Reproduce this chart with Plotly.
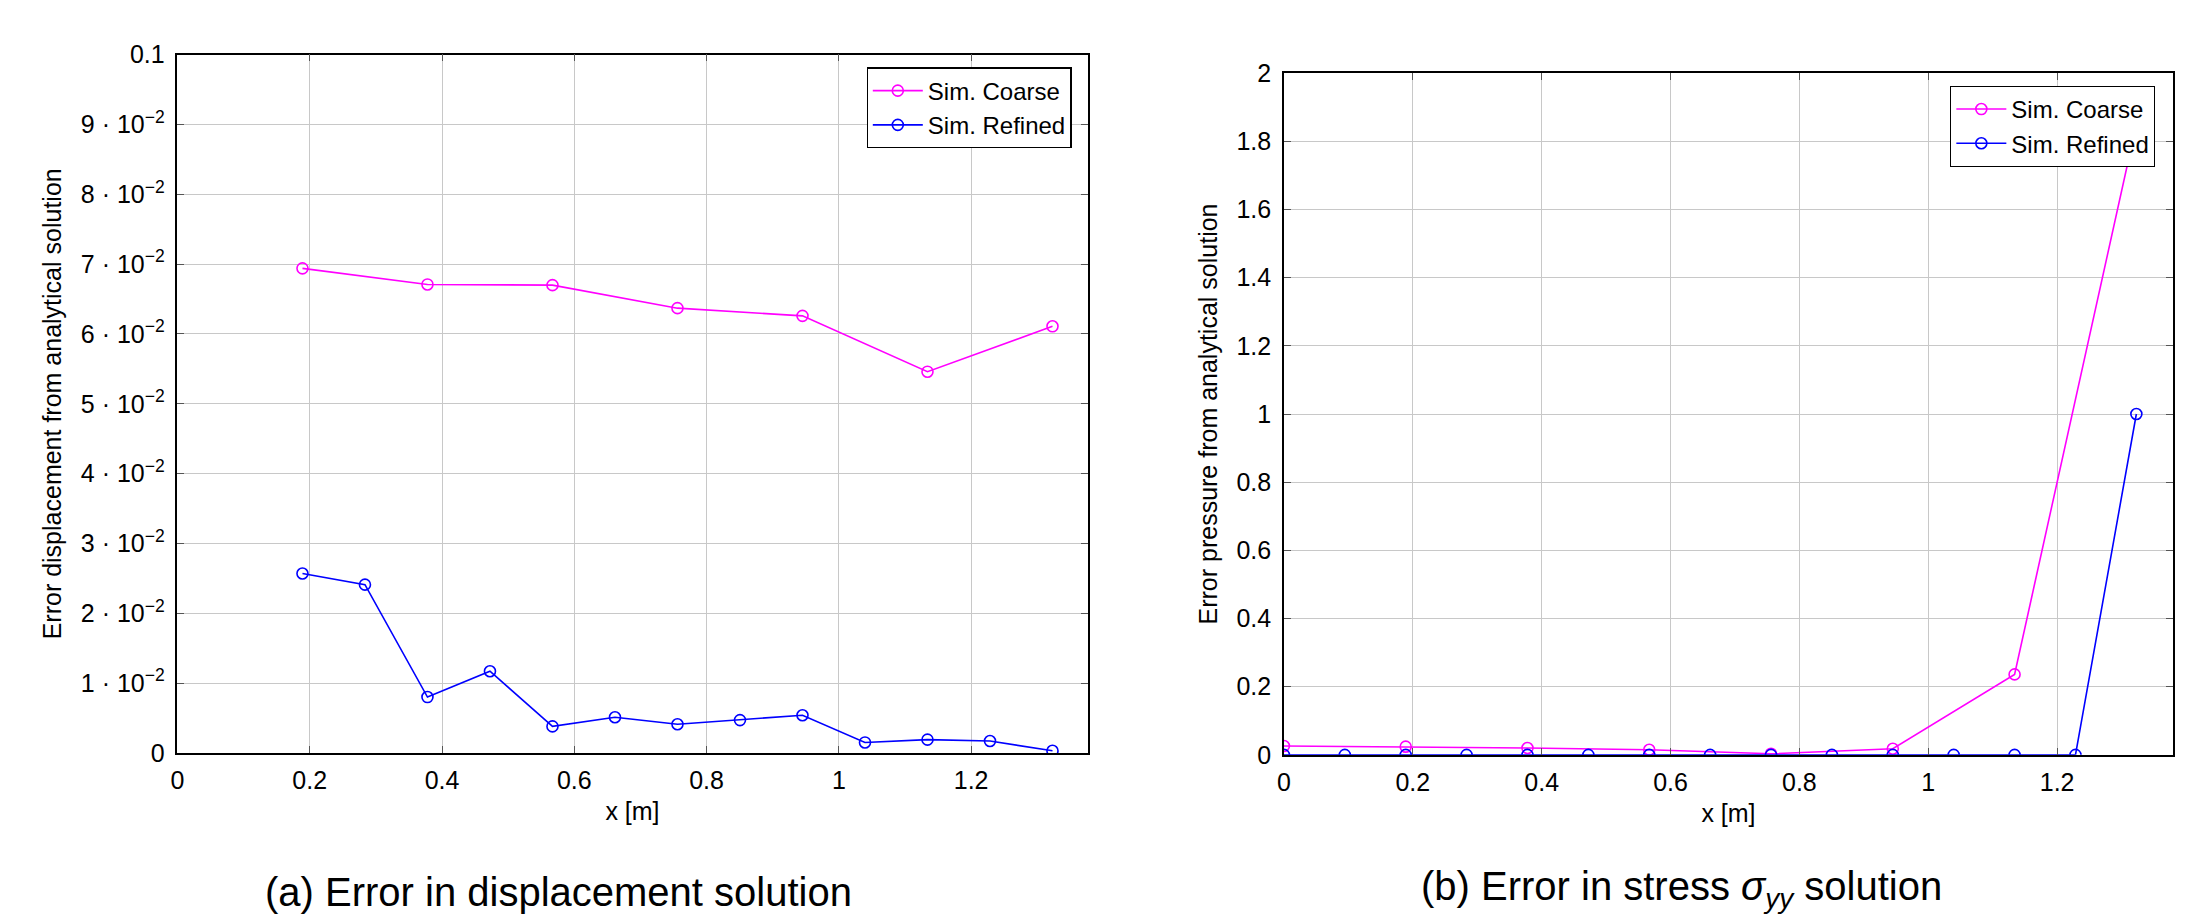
"""
Error vs analytical solution - coarse / refined simulation
(a) displacement, (b) stress sigma_yy
"""

import plotly.graph_objects as go
from plotly.subplots import make_subplots

# ============================================================================
# DATA
# ============================================================================
x_coarse_a = [0.189, 0.378, 0.567, 0.756, 0.945, 1.134, 1.323]
err_disp_coarse = [0.0694, 0.0671, 0.0670, 0.0637, 0.0626, 0.0546, 0.0611]

x_refined_a = [0.189, 0.2835, 0.378, 0.4725, 0.567, 0.6615, 0.756, 0.8505,
               0.945, 1.0395, 1.134, 1.2285, 1.323]
err_disp_refined = [0.0257, 0.0241, 0.0080, 0.0117, 0.0038, 0.0051, 0.0041,
                    0.0047, 0.0054, 0.0015, 0.0019, 0.0017, 0.0003]

x_coarse_b = [0.0, 0.189, 0.378, 0.567, 0.756, 0.945, 1.134, 1.323]
err_stress_coarse = [0.026, 0.024, 0.020, 0.015, 0.003, 0.018, 0.236, 1.85]

x_refined_b = [0.0, 0.0945, 0.189, 0.2835, 0.378, 0.4725, 0.567, 0.6615, 0.756,
               0.8505, 0.945, 1.0395, 1.134, 1.2285, 1.323]
err_stress_refined = [0.0, 0.0, 0.0, 0.0, 0.0, 0.0, 0.0, 0.0, 0.0,
                      0.0, 0.0, 0.0, 0.0, 0.0, 1.0]

x_ticks = [0, 0.2, 0.4, 0.6, 0.8, 1.0, 1.2]
y_ticks_a = [0, 0.01, 0.02, 0.03, 0.04, 0.05, 0.06, 0.07, 0.08, 0.09, 0.1]
y_ticktext_a = ['0'] + [f'{i} · 10<sup>−2</sup>' for i in range(1, 10)] + ['0.1']

# ============================================================================
# FIGURE
# ============================================================================
FONT = 'Liberation Sans, Arial, sans-serif'
MAGENTA = '#ff00ff'
BLUE = '#0000ff'

fig = make_subplots(rows=1, cols=2)

def add_series(x, y, name, color, col, legend):
    fig.add_trace(
        go.Scatter(
            x=x, y=y, name=name, mode='lines+markers',
            line=dict(color=color, width=1.6),
            marker=dict(symbol='circle-open', size=11, color=color, line=dict(width=1.6)),
            legend=legend,
            cliponaxis=True
        ),
        row=1, col=col
    )

add_series(x_coarse_a, err_disp_coarse, 'Sim. Coarse', MAGENTA, 1, 'legend')
add_series(x_refined_a, err_disp_refined, 'Sim. Refined', BLUE, 1, 'legend')
add_series(x_coarse_b, err_stress_coarse, 'Sim. Coarse', MAGENTA, 2, 'legend2')
add_series(x_refined_b, err_stress_refined, 'Sim. Refined', BLUE, 2, 'legend2')

axis_style = dict(
    showline=True, linecolor='black', linewidth=1.5, mirror='ticks',
    ticks='inside', ticklen=7, tickcolor='#555555', tickwidth=1.2,
    showgrid=True, gridcolor='#c8c8c8', gridwidth=1.2,
    zeroline=False,
    tickfont=dict(family=FONT, size=25, color='black'),
    title_font=dict(family=FONT, size=25, color='black'),
)

fig.update_xaxes(**axis_style)
fig.update_yaxes(**axis_style)

fig.update_xaxes(ticklabelstandoff=4)
fig.update_yaxes(ticklabelstandoff=6)

fig.update_xaxes(domain=[171 / 2200, 1084 / 2200], range=[0, 1.376],
                 tickvals=x_ticks, title_text='x [m]', title_standoff=10, row=1, col=1)
fig.update_xaxes(domain=[1281 / 2200, 2173 / 2200], range=[0, 1.38],
                 tickvals=x_ticks, title_text='x [m]', title_standoff=10, row=1, col=2)

fig.update_yaxes(domain=[1 - 762 / 924, 1 - 42 / 924], range=[0, 0.1],
                 tickvals=y_ticks_a, ticktext=y_ticktext_a,
                 title_text='Error displacement from analytical solution',
                 title_standoff=12, row=1, col=1)
fig.update_yaxes(domain=[1 - 764 / 924, 1 - 61 / 924], range=[0, 2], dtick=0.2,
                 title_text='Error pressure from analytical solution',
                 title_standoff=12, row=1, col=2)

legend_style = dict(
    bgcolor='white', bordercolor='black', borderwidth=1.2,
    font=dict(family=FONT, size=24, color='black'),
    xanchor='right', yanchor='top', tracegroupgap=0, itemwidth=50,
)

caption_font = dict(family=FONT, size=40, color='black')

fig.update_layout(
    width=2200,
    height=924,
    margin=dict(l=0, r=0, t=0, b=0),
    paper_bgcolor='white',
    plot_bgcolor='white',
    font=dict(family=FONT, color='black'),
    legend=dict(x=1068 / 2200, y=1 - 55 / 924, **legend_style),
    legend2=dict(x=2155 / 2200, y=1 - 74 / 924, **legend_style),
    annotations=[
        dict(text='(a) Error in displacement solution', x=553 / 2200, y=0, yshift=-6,
             xref='paper', yref='paper', xanchor='center', yanchor='bottom',
             showarrow=False, font=caption_font),
        dict(text='(b) Error in stress <i>σ<sub>yy</sub></i> solution', x=1680 / 2200, y=0,
             yshift=-6, xref='paper', yref='paper', xanchor='center', yanchor='bottom',
             showarrow=False, font=caption_font),
    ],
)

# no body margin, so the figure sits exactly in the window
fig.write_html('out.html', config={'displayModeBar': False},
               post_script="document.body.style.margin='0px';")
